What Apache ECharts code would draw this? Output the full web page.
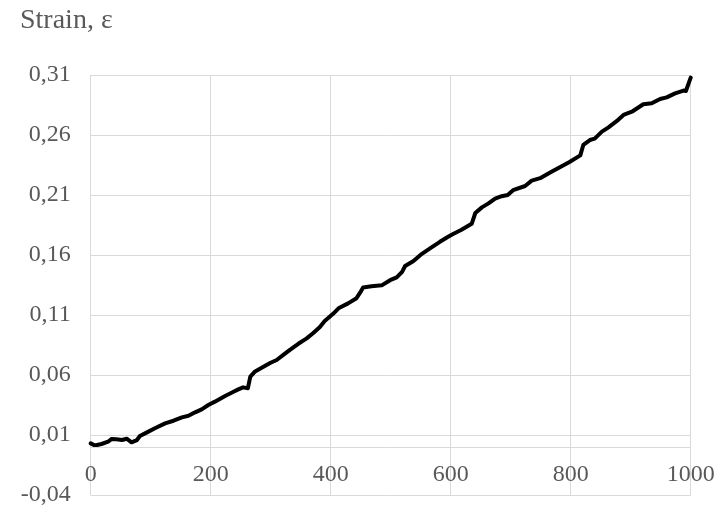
<!DOCTYPE html>
<html>
<head>
<meta charset="utf-8">
<script src="https://cdn.jsdelivr.net/npm/echarts@6/dist/echarts.min.js"></script>
<style>
html,body{margin:0;padding:0;background:#fff;}
#chart{width:718px;height:505px;}
</style>
</head>
<body>
<div id="chart"></div>
<script>
const xValues = [0, 7, 18, 29, 35, 43, 52, 60, 68, 77, 82, 93, 107, 124, 138, 152, 163, 174, 185, 196, 207,
  224, 238, 246, 254, 262, 266, 274, 285, 299, 310, 321, 332, 346, 360, 371, 382, 390, 404,
  413, 429, 443, 449, 454, 468, 485, 499, 510, 519, 524, 538, 552, 568, 582, 595,
  604, 618, 635, 641, 652, 663, 674, 685, 695, 704, 724, 735, 749, 768, 785, 798,
  816, 821, 832, 840, 852, 863, 877, 888, 902, 921, 935, 949, 960, 974, 988, 992, 1000];
const strain = [0.0030, 0.0012, 0.0025, 0.0044, 0.0067, 0.0064, 0.0058, 0.0069, 0.0039, 0.0058, 0.0092, 0.0120, 0.0156, 0.0197, 0.0219, 0.0247, 0.0260, 0.0289, 0.0314, 0.0350, 0.0378,
  0.0425, 0.0460, 0.0480, 0.0497, 0.0490, 0.0586, 0.0630, 0.0660, 0.0700, 0.0725, 0.0767, 0.0810, 0.0860, 0.0905, 0.0950, 0.1000, 0.1050, 0.1110,
  0.1156, 0.1197, 0.1240, 0.1286, 0.1330, 0.1340, 0.1347, 0.1390, 0.1414, 0.1460, 0.1508, 0.1550, 0.1610, 0.1664, 0.1710, 0.1750,
  0.1775, 0.1810, 0.1860, 0.1950, 0.1997, 0.2030, 0.2070, 0.2090, 0.2100, 0.2140, 0.2175, 0.2220, 0.2240, 0.2294, 0.2340, 0.2375,
  0.2430, 0.2517, 0.2558, 0.2570, 0.2628, 0.2664, 0.2717, 0.2767, 0.2794, 0.2856, 0.2864, 0.2900, 0.2914, 0.2947, 0.2970, 0.2967, 0.3078];
const xTicks = [0, 200, 400, 600, 800, 1000];
const yTicks = [-0.04, 0.01, 0.06, 0.11, 0.16, 0.21, 0.26, 0.31];
const yTitle = 'Strain, ε';

const font = '"Liberation Serif", "Times New Roman", serif';
const grey = '#595959';
const gridColor = '#d9d9d9';
const chart = echarts.init(document.getElementById('chart'));
chart.setOption({
  animation: false,
  backgroundColor: '#ffffff',
  title: {
    text: yTitle, left: 20, top: 7, padding: 0,
    textStyle: {fontFamily: font, fontSize: 28, fontWeight: 'normal', color: grey, lineHeight: 28}
  },
  grid: {left: 90.7, right: 27.3, top: 75, bottom: 10, containLabel: false, outerBoundsMode: 'none'},
  xAxis: {
    type: 'value', min: xTicks[0], max: xTicks[xTicks.length - 1], interval: 200,
    position: 'bottom',
    axisLine: {show: false, onZero: false},
    axisTick: {show: false},
    axisLabel: {fontFamily: font, fontSize: 24, color: grey, margin: -32, formatter: v => String(v)},
    splitLine: {show: true, lineStyle: {color: gridColor, width: 1}}
  },
  yAxis: {
    type: 'value', min: yTicks[0], max: yTicks[yTicks.length - 1], interval: 0.05,
    axisLine: {show: false},
    axisTick: {show: false},
    axisLabel: {fontFamily: font, fontSize: 24, color: grey, margin: 20,
      formatter: v => v.toFixed(2).replace('.', ',')},
    splitLine: {show: true, lineStyle: {color: gridColor, width: 1}}
  },
  series: [{
    type: 'line',
    data: [],
    z: 1,
    silent: true,
    markLine: {
      silent: true, symbol: 'none', animation: false,
      label: {show: false},
      lineStyle: {color: gridColor, width: 1, type: 'solid'},
      data: [{yAxis: 0}]
    }
  }, {
    type: 'line',
    z: 3,
    data: xValues.map((x, i) => [x, strain[i]]),
    showSymbol: false,
    lineStyle: {color: '#000000', width: 4, join: 'round', cap: 'round'},
    smooth: false
  }]
});
</script>
</body>
</html>
